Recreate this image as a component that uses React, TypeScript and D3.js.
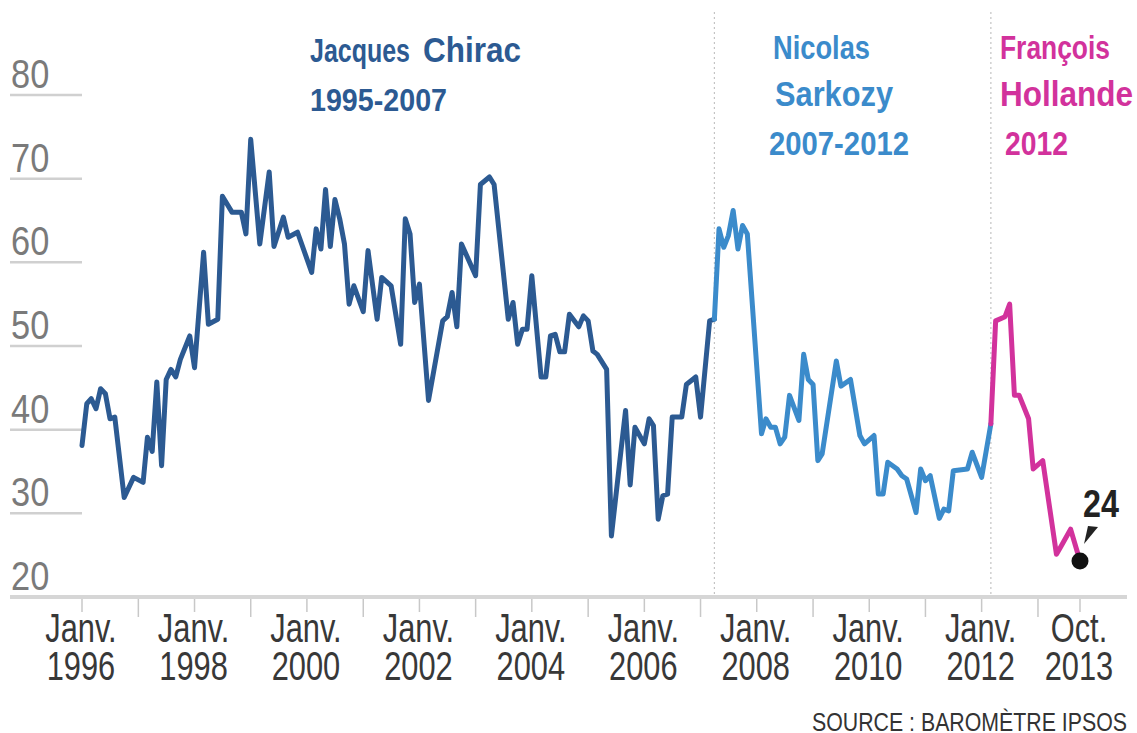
import * as d3 from 'd3'

const FONT = "'Liberation Sans', Arial, sans-serif"

const C_CHIRAC = '#2c5a92'
const C_SARKOZY = '#3b8bcb'
const C_HOLLANDE = '#d2329c'

// popularity (%), month -> value
const chirac: [string, number][] = [
  ['1996-01', 38.1], ['1996-02', 43.1], ['1996-03', 43.7], ['1996-04', 42.5], ['1996-05', 44.9],
  ['1996-06', 44.3], ['1996-07', 41.3], ['1996-08', 41.5], ['1996-10', 31.9], ['1996-12', 34.3],
  ['1997-02', 33.7], ['1997-03', 39.1], ['1997-04', 37.4], ['1997-05', 45.7], ['1997-06', 35.7],
  ['1997-07', 46.0], ['1997-08', 47.2], ['1997-09', 46.3], ['1997-10', 48.4], ['1997-12', 51.2],
  ['1998-01', 47.4], ['1998-03', 61.2], ['1998-04', 52.6], ['1998-06', 53.2], ['1998-07', 67.9],
  ['1998-09', 66.0], ['1998-11', 66.0], ['1998-12', 63.4], ['1999-01', 74.7], ['1999-03', 62.2],
  ['1999-05', 70.8], ['1999-06', 61.9], ['1999-08', 65.4], ['1999-09', 63.0], ['1999-11', 63.6],
  ['2000-02', 58.8], ['2000-03', 64.0], ['2000-04', 61.6], ['2000-05', 68.7], ['2000-06', 61.9],
  ['2000-07', 67.5], ['2000-08', 65.2], ['2000-09', 62.2], ['2000-10', 55.0], ['2000-11', 57.2],
  ['2001-01', 54.1], ['2001-02', 61.4], ['2001-04', 53.2], ['2001-05', 58.2], ['2001-07', 57.2],
  ['2001-09', 50.2], ['2001-10', 65.2], ['2001-11', 63.4], ['2001-12', 55.2], ['2002-01', 57.4],
  ['2002-03', 43.5], ['2002-06', 53.0], ['2002-07', 53.5], ['2002-08', 56.4], ['2002-09', 52.3],
  ['2002-10', 62.2], ['2003-01', 58.4], ['2003-02', 69.3], ['2003-04', 70.2], ['2003-05', 69.3],
  ['2003-08', 53.2], ['2003-09', 55.2], ['2003-10', 50.2], ['2003-11', 52.0], ['2003-12', 52.0],
  ['2004-01', 58.4], ['2004-03', 46.3], ['2004-04', 46.3], ['2004-05', 51.2], ['2004-06', 51.4],
  ['2004-07', 49.3], ['2004-08', 49.3], ['2004-09', 53.8], ['2004-11', 52.3], ['2004-12', 53.6],
  ['2005-01', 53.0], ['2005-02', 49.4], ['2005-03', 49.0], ['2005-05', 47.2], ['2005-06', 27.3],
  ['2005-08', 37.3], ['2005-09', 42.3], ['2005-10', 33.4], ['2005-11', 40.3], ['2006-01', 38.3],
  ['2006-02', 41.3], ['2006-03', 40.5], ['2006-04', 29.3], ['2006-05', 32.1], ['2006-06', 32.3],
  ['2006-07', 41.5], ['2006-09', 41.5], ['2006-10', 45.4], ['2006-12', 46.3], ['2007-01', 41.5],
  ['2007-03', 53.0], ['2007-04', 53.2],
]

const sarkozy: [string, number][] = [
  ['2007-04', 53.2], ['2007-05', 64.0], ['2007-06', 61.8], ['2007-07', 63.2], ['2007-08', 66.2],
  ['2007-09', 61.6], ['2007-10', 64.4], ['2007-11', 63.4], ['2008-02', 39.5], ['2008-03', 41.3],
  ['2008-04', 40.3], ['2008-05', 40.3], ['2008-06', 38.3], ['2008-07', 39.1], ['2008-08', 44.1],
  ['2008-10', 41.1], ['2008-11', 49.0], ['2008-12', 46.0], ['2009-01', 45.4], ['2009-02', 36.3],
  ['2009-03', 37.1], ['2009-06', 48.2], ['2009-07', 45.2], ['2009-09', 46.0], ['2009-11', 39.3],
  ['2009-12', 38.3], ['2010-02', 39.3], ['2010-03', 32.3], ['2010-04', 32.3], ['2010-05', 36.1],
  ['2010-07', 35.3], ['2010-08', 34.5], ['2010-09', 34.1], ['2010-11', 30.1], ['2010-12', 35.3],
  ['2011-01', 33.9], ['2011-02', 34.5], ['2011-04', 29.4], ['2011-05', 30.5], ['2011-06', 30.3],
  ['2011-07', 35.1], ['2011-10', 35.3], ['2011-11', 37.3], ['2012-01', 34.3], ['2012-03', 40.7],
]

const hollande: [string, number][] = [
  ['2012-03', 40.7], ['2012-04', 53.0], ['2012-06', 53.5], ['2012-07', 55.0], ['2012-08', 44.1],
  ['2012-09', 44.1], ['2012-11', 41.3], ['2012-12', 35.3], ['2013-02', 36.3], ['2013-05', 25.1],
  ['2013-06', 26.1], ['2013-08', 28.1], ['2013-10', 24.3],
]

const presidents = [
  { data: chirac, color: C_CHIRAC },
  { data: sarkozy, color: C_SARKOZY },
  { data: hollande, color: C_HOLLANDE },
]

const dividers = ['2007-04', '2012-03']
const yTicks = [20, 30, 40, 50, 60, 70, 80]
const xLabels: [string, string, string][] = [
  ['1996-01', 'Janv.', '1996'], ['1998-01', 'Janv.', '1998'], ['2000-01', 'Janv.', '2000'],
  ['2002-01', 'Janv.', '2002'], ['2004-01', 'Janv.', '2004'], ['2006-01', 'Janv.', '2006'],
  ['2008-01', 'Janv.', '2008'], ['2010-01', 'Janv.', '2010'], ['2012-01', 'Janv.', '2012'],
  ['2013-10', 'Oct.', '2013'],
]
const lastValue = '24'

const parse = d3.timeParse('%Y-%m')

// condensed text: horizontal squeeze around the anchor point
function Narrow({
  x,
  y,
  sx,
  children,
  ...rest
}: {
  x: number
  y: number
  sx: number
  children: React.ReactNode
  [k: string]: unknown
}) {
  return (
    <text transform={`translate(${x},${y}) scale(${sx},1)`} {...rest}>
      {children}
    </text>
  )
}

export default function App() {
  const width = 1137
  const height = 733
  const x = d3.scaleTime().domain([parse('1996-01')!, parse('2013-10')!]).range([82, 1080])
  const y = d3.scaleLinear().domain([20, 80]).range([597, 95])
  const line = d3
    .line<[string, number]>()
    .x((d) => x(parse(d[0])!))
    .y((d) => y(d[1]))

  const yearTicks = d3.timeYear.range(parse('1996-01')!, parse('2014-01')!)
  const last = hollande[hollande.length - 1]
  const lx = x(parse(last[0])!)
  const ly = y(last[1])

  return (
    <svg
      width={width}
      height={height}
      style={{ position: 'absolute', left: 0, top: 0, background: '#fff' }}
      fontFamily={FONT}
    >
      {/* y grid stubs + labels */}
      {yTicks.map((v) => (
        <g key={v}>
          <line
            x1={10}
            x2={v === 20 ? 1127 : 82}
            y1={y(v)}
            y2={y(v)}
            stroke={v === 20 ? '#d6d6d6' : '#d0d0d0'}
            strokeWidth={v === 20 ? 4 : 2.5}
          />
          <Narrow x={11} y={y(v) - 7} sx={0.86} fontSize={40} fill="#7a7a7a">
            {v}
          </Narrow>
        </g>
      ))}

      {/* year ticks */}
      {yearTicks.map((d) => {
        const even = d.getFullYear() % 2 === 0
        return (
          <line
            key={d.getFullYear()}
            x1={x(d)}
            x2={x(d)}
            y1={599}
            y2={even ? 612 : 617}
            stroke="#c8c8c8"
            strokeWidth={1.5}
          />
        )
      })}
      <line x1={x(parse('2013-10')!)} x2={x(parse('2013-10')!)} y1={599} y2={612} stroke="#c8c8c8" strokeWidth={1.5} />

      {xLabels.map(([d, a, b]) => (
        <g key={d}>
          <Narrow x={x(parse(d)!) - 1} y={642} sx={0.77} textAnchor="middle" fontSize={40} fill="#383838">
            {a}
          </Narrow>
          <Narrow x={x(parse(d)!) - 1} y={680} sx={0.77} textAnchor="middle" fontSize={40} fill="#383838">
            {b}
          </Narrow>
        </g>
      ))}

      {/* term dividers */}
      {dividers.map((d) => (
        <line
          key={d}
          x1={x(parse(d)!)}
          x2={x(parse(d)!)}
          y1={12}
          y2={595}
          stroke="#c4c4c4"
          strokeWidth={1.2}
          strokeDasharray="2,3"
        />
      ))}

      {/* series */}
      {presidents.map((p, i) => (
        <path
          key={i}
          d={line(p.data) ?? ''}
          fill="none"
          stroke={p.color}
          strokeWidth={5}
          strokeLinejoin="round"
          strokeLinecap="round"
        />
      ))}

      {/* last value */}
      <circle cx={lx} cy={ly} r={8.5} fill="#111" />
      <path d={`M${lx + 4},${ly - 17} L${lx + 8},${ly - 35} L${lx + 18},${ly - 34} Z`} fill="#222" />
      <Narrow x={lx + 21} y={ly - 44} sx={0.85} textAnchor="middle" fontSize={38} fontWeight="bold" fill="#222">
        {lastValue}
      </Narrow>

      {/* president labels */}
      <g fontWeight="bold" fill={C_CHIRAC}>
        <text x={310} y={62} fontSize={33} textLength={100} lengthAdjust="spacingAndGlyphs">
          Jacques
        </text>
        <text x={423} y={62} fontSize={35} textLength={98} lengthAdjust="spacingAndGlyphs">
          Chirac
        </text>
        <text x={310} y={111} fontSize={31} textLength={137} lengthAdjust="spacingAndGlyphs">
          1995-2007
        </text>
      </g>

      <g fontWeight="bold" fill={C_SARKOZY}>
        <text x={773} y={59} fontSize={33} textLength={97} lengthAdjust="spacingAndGlyphs">
          Nicolas
        </text>
        <text x={775} y={106} fontSize={35} textLength={118} lengthAdjust="spacingAndGlyphs">
          Sarkozy
        </text>
        <text x={769} y={155} fontSize={33} textLength={140} lengthAdjust="spacingAndGlyphs">
          2007-2012
        </text>
      </g>

      <g fontWeight="bold" fill={C_HOLLANDE}>
        <text x={1000} y={59} fontSize={33} textLength={110} lengthAdjust="spacingAndGlyphs">
          François
        </text>
        <text x={1000} y={106} fontSize={35} textLength={133} lengthAdjust="spacingAndGlyphs">
          Hollande
        </text>
        <text x={1005} y={155} fontSize={33} textLength={63} lengthAdjust="spacingAndGlyphs">
          2012
        </text>
      </g>

      <text
        x={812}
        y={731}
        fontSize={26}
        fill="#333"
        textLength={315}
        lengthAdjust="spacingAndGlyphs"
      >
        SOURCE : BAROMÈTRE IPSOS
      </text>
    </svg>
  )
}
